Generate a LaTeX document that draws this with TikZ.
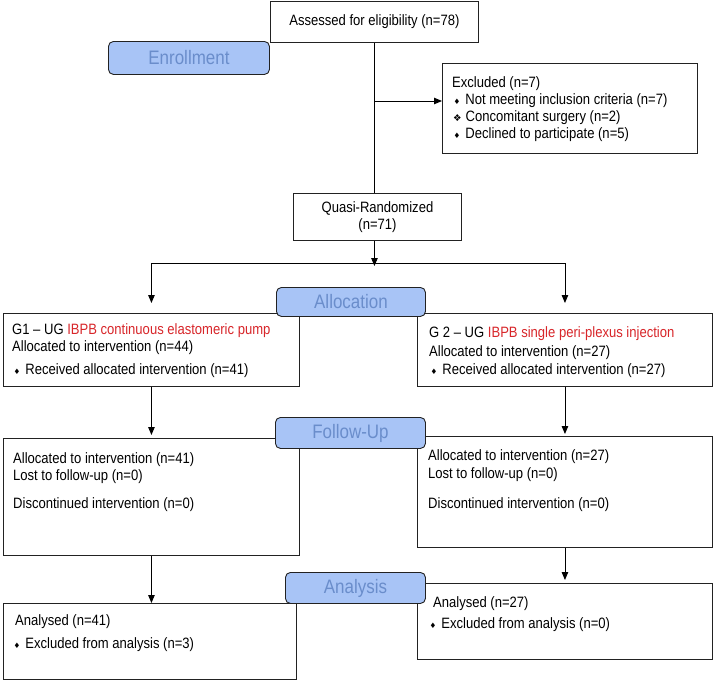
\documentclass[tikz,border=0pt]{standalone}
\usepackage{fontspec}
\setmainfont[FakeStretch=0.87]{Liberation Sans}
\newfontfamily\symfont{DejaVu Sans}
\usetikzlibrary{arrows.meta,calc}

\definecolor{stagefill}{HTML}{A8C4F6}
\definecolor{stagetext}{HTML}{6A8DCB}
\definecolor{armred}{HTML}{D8262A}
\definecolor{edge}{HTML}{222222}

\newcommand{\dmd}{\hspace*{1.5pt}{\symfont\fontsize{7.5}{7.5}\selectfont ♦}\hspace{5pt}}
\newcommand{\xdmd}{\hspace*{1pt}{\symfont\fontsize{9.5}{9.5}\selectfont ❖}\hspace{4pt}}

\tikzset{
    box/.style={draw=edge, line width=0.9pt, fill=white, anchor=north west, inner sep=0pt},
    stage/.style={draw=edge, line width=0.9pt, fill=stagefill, rounded corners=5pt,
        text=stagetext, font=\fontsize{19.5}{22}\selectfont, anchor=north west, inner sep=0pt},
    txt/.style={anchor=north west, inner sep=0pt, align=left},
    conn/.style={line width=0.9pt, draw=black},
}

\begin{document}
\begin{tikzpicture}[x=1pt, y=-1pt, >={Triangle[length=8pt,width=6.5pt]},
    font=\fontsize{15}{17}\selectfont]
    \useasboundingbox (0,0) rectangle (714,681);

    % boxes
    \node[box, minimum width=208pt, minimum height=41pt] (assess) at (270,1) {Assessed for eligibility (n=78)};
    \node[box, minimum width=255pt, minimum height=90pt] (excl) at (442,63) {};
    \node[box, minimum width=168pt, minimum height=47pt, align=center] (quasi) at (293,193)
        {Quasi-Randomized\\(n=71)};
    \node[box, minimum width=296pt, minimum height=73pt] (g1) at (3,313) {};
    \node[box, minimum width=295pt, minimum height=73pt] (g2) at (417,313) {};
    \node[box, minimum width=296pt, minimum height=117pt] (fu1) at (3,438) {};
    \node[box, minimum width=295pt, minimum height=111pt] (fu2) at (417,436) {};
    \node[box, minimum width=293pt, minimum height=76pt] (an1) at (3,603) {};
    \node[box, minimum width=295pt, minimum height=76pt] (an2) at (417,583) {};

    % box texts
    \node[txt] (excltxt) at ($(excl.north west)+(10,12.4)$) {\strut Excluded (n=7)\\
        \dmd Not meeting inclusion criteria (n=7)\\
        \xdmd Concomitant surgery (n=2)\\
        \dmd Declined to participate (n=5)};
    \node[txt] (g1txt) at ($(g1.north west)+(9,9.4)$)
        {\strut G1 – UG \textcolor{armred}{IBPB continuous elastomeric pump}\\
        Allocated to intervention (n=44)\\[6pt]
        \dmd Received allocated intervention (n=41)};
    \node[txt] (g2txt) at ($(g2.north west)+(12,12.4)$)
        {\strut G 2 – UG \textcolor{armred}{IBPB single peri-plexus injection}\\[2pt]
        Allocated to intervention (n=27)\\[1pt]
        \dmd Received allocated intervention (n=27)};
    \node[txt] (fu1txt) at ($(fu1.north west)+(10,13.4)$)
        {\strut Allocated to intervention (n=41)\\
        Lost to follow-up (n=0)\\[11pt]
        Discontinued intervention (n=0)};
    \node[txt] (fu2txt) at ($(fu2.north west)+(11,12.4)$)
        {\strut Allocated to intervention (n=27)\\[1pt]
        Lost to follow-up (n=0)\\[13pt]
        Discontinued intervention (n=0)};
    \node[txt] (an1txt) at ($(an1.north west)+(9,10.4)$)
        {\strut\hspace*{3pt}Analysed (n=41)\\[6pt]
        \dmd Excluded from analysis (n=3)};
    \node[txt] (an2txt) at ($(an2.north west)+(11,12.4)$)
        {\strut\hspace*{5pt}Analysed (n=27)\\[4pt]
        \dmd Excluded from analysis (n=0)};

    % connectors
    \coordinate (exjoin) at (assess.south |- 0,101);
    \coordinate (split) at (assess.south |- 0,263);
    \draw[conn] (assess.south) -- (assess.south |- quasi.north);
    \draw[conn, ->] (exjoin) -- (exjoin -| excl.west);
    \draw[conn, ->] (assess.south |- quasi.south) -- ($(split)+(0,3)$);
    \draw[conn] (g1.north |- split) -- (g2.north |- split);
    \draw[conn, ->, shorten >=10pt] (g1.north |- split) -- (g1.north);
    \draw[conn, ->, shorten >=10pt] (g2.north |- split) -- (g2.north);
    \draw[conn, ->, shorten >=3pt] (g1) -- (fu1);
    \draw[conn, ->, shorten >=2pt] (g2) -- (fu2);
    \draw[conn, ->] (fu1.south) -- (fu1.south |- an1.north);
    \draw[conn, ->, shorten >=3pt] (fu2) -- (an2);

    % stage labels
    \node[stage, minimum width=161pt, minimum height=33pt] (enrol) at (108,41) {Enrollment};
    \node[stage, minimum width=149pt, minimum height=29pt] (alloc) at (276,287) {Allocation};
    \node[stage, minimum width=150pt, minimum height=31pt] (follow) at (275,417) {Follow-Up};
    \node[stage, minimum width=140pt, minimum height=31pt] (anal) at (285,572) {Analysis};
\end{tikzpicture}
\end{document}
